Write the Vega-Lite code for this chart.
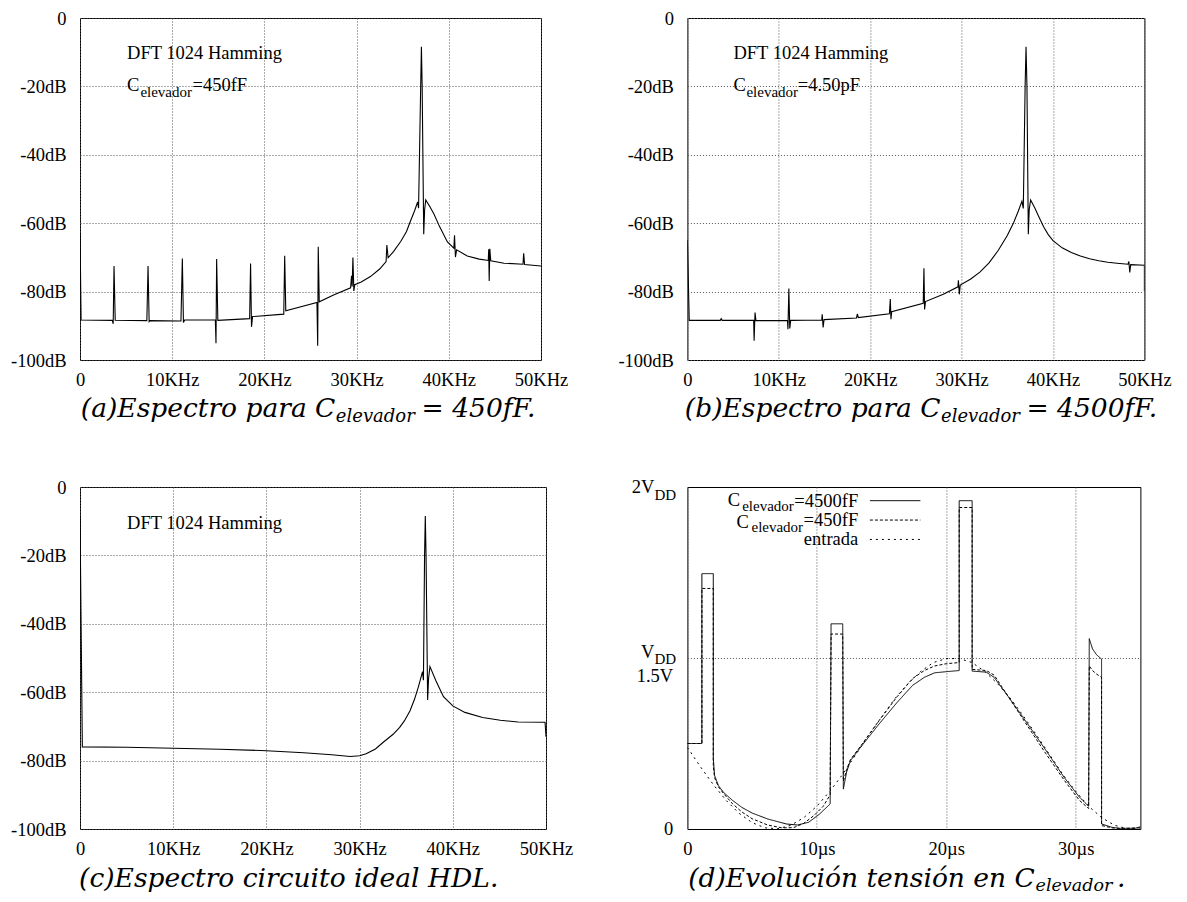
{
  "$schema": "https://vega.github.io/schema/vega-lite/v6.json",
  "padding": {"left": 10, "top": 8, "right": 5, "bottom": 5},
  "background": "white",
  "config": {
    "view": {"stroke": "black", "strokeWidth": 1},
    "axis": {"labelFont": "Liberation Serif", "labelFontSize": 18.5, "labelColor": "black", "ticks": false, "domain": false, "grid": true, "gridColor": "#555", "gridDash": [1, 2], "labelFlush": false, "labelOverlap": false},
    "axisX": {"labelPadding": 10},
    "axisY": {"labelPadding": 14},
    "text": {"font": "Liberation Serif", "fontSize": 18.5, "color": "black", "baseline": "middle"}
  },
  "datasets": {
    "a": [
      {"x":0,"y":-63},{"x":0.12,"y":-88.3},{"x":3.5,"y":-88.4},{"x":3.6,"y":-89.4},{"x":3.69,"y":-72.5},{"x":3.82,"y":-88.4},{"x":7.25,"y":-88.5},{"x":7.38,"y":-72.5},{"x":7.5,"y":-88.8},{"x":7.6,"y":-88.5},{"x":10.95,"y":-88.6},{"x":11.1,"y":-70.3},{"x":11.22,"y":-89.0},{"x":11.35,"y":-88.3},{"x":14.68,"y":-88.3},{"x":14.75,"y":-95.1},{"x":14.82,"y":-70.5},{"x":14.95,"y":-88.4},{"x":18.4,"y":-87.9},{"x":18.5,"y":-71.8},{"x":18.6,"y":-90.3},{"x":18.72,"y":-87.3},{"x":22.1,"y":-86.6},{"x":22.2,"y":-69.5},{"x":22.32,"y":-85.6},{"x":25.7,"y":-83.2},{"x":25.78,"y":-95.8},{"x":25.84,"y":-66.9},{"x":25.95,"y":-83.0},{"x":27.5,"y":-81.0},{"x":29.35,"y":-78.9},{"x":29.45,"y":-75.4},{"x":29.52,"y":-78.5},{"x":29.6,"y":-70.0},{"x":29.7,"y":-79.8},{"x":29.8,"y":-78.0},{"x":30.5,"y":-77.2},{"x":31.5,"y":-75.6},{"x":32.5,"y":-73.4},{"x":33.2,"y":-71.2},{"x":33.28,"y":-66.4},{"x":33.42,"y":-70.1},{"x":34.0,"y":-68.3},{"x":34.8,"y":-65.3},{"x":35.4,"y":-62.5},{"x":35.9,"y":-59.0},{"x":36.3,"y":-56.3},{"x":36.62,"y":-53.8},{"x":36.72,"y":-55.6},{"x":36.95,"y":-20},{"x":37.03,"y":-8.4},{"x":37.11,"y":-20},{"x":37.28,"y":-63.2},{"x":37.38,"y":-56},{"x":37.5,"y":-53.2},{"x":38.0,"y":-55.4},{"x":38.4,"y":-57.4},{"x":39.0,"y":-61.0},{"x":39.85,"y":-65.5},{"x":40.55,"y":-67.3},{"x":40.62,"y":-63.5},{"x":40.72,"y":-69.9},{"x":40.85,"y":-67.8},{"x":42.0,"y":-69.6},{"x":43.3,"y":-70.5},{"x":44.28,"y":-70.9},{"x":44.33,"y":-67.6},{"x":44.38,"y":-76.9},{"x":44.45,"y":-67.5},{"x":44.55,"y":-71.0},{"x":46.0,"y":-71.7},{"x":48.05,"y":-72.0},{"x":48.12,"y":-68.8},{"x":48.22,"y":-72.1},{"x":50,"y":-72.5}
    ],
    "b": [
      {"x":0,"y":-65},{"x":0.2,"y":-88.4},{"x":3.6,"y":-88.4},{"x":3.7,"y":-87.9},{"x":3.8,"y":-88.4},{"x":7.25,"y":-88.4},{"x":7.3,"y":-94.4},{"x":7.4,"y":-86.1},{"x":7.5,"y":-88.5},{"x":10.95,"y":-88.5},{"x":11.0,"y":-91},{"x":11.1,"y":-79.1},{"x":11.2,"y":-90.8},{"x":11.3,"y":-88.4},{"x":14.7,"y":-88.3},{"x":14.75,"y":-86.6},{"x":14.85,"y":-90.5},{"x":14.95,"y":-88.2},{"x":18.5,"y":-87.7},{"x":18.6,"y":-86.5},{"x":18.7,"y":-87.6},{"x":22.1,"y":-86.5},{"x":22.2,"y":-82.2},{"x":22.27,"y":-88.1},{"x":22.35,"y":-85.9},{"x":25.8,"y":-83.4},{"x":25.88,"y":-73.2},{"x":25.95,"y":-85.2},{"x":26.05,"y":-82.9},{"x":28,"y":-80.8},{"x":29.6,"y":-78.6},{"x":29.65,"y":-76.7},{"x":29.75,"y":-80.8},{"x":29.85,"y":-78.1},{"x":31,"y":-76.3},{"x":32,"y":-74.3},{"x":33,"y":-71.6},{"x":34,"y":-68},{"x":35,"y":-63.6},{"x":35.7,"y":-59.8},{"x":36.2,"y":-56.5},{"x":36.6,"y":-53.6},{"x":36.75,"y":-55.7},{"x":36.95,"y":-20},{"x":37.05,"y":-8.4},{"x":37.15,"y":-20},{"x":37.3,"y":-63.2},{"x":37.4,"y":-56},{"x":37.55,"y":-53.2},{"x":38,"y":-55.5},{"x":38.5,"y":-58.4},{"x":39,"y":-61.2},{"x":39.5,"y":-63.4},{"x":40,"y":-65.1},{"x":41,"y":-67.2},{"x":42,"y":-68.6},{"x":43,"y":-69.6},{"x":44,"y":-70.4},{"x":45,"y":-71},{"x":46,"y":-71.4},{"x":47,"y":-71.7},{"x":48.2,"y":-72},{"x":48.3,"y":-71.2},{"x":48.4,"y":-74.4},{"x":48.5,"y":-72.1},{"x":50,"y":-72.3},{"x":50,"y":-79.8}
    ],
    "c": [
      {"x":0,"y":-8.5},{"x":0.25,"y":-76},{"x":5,"y":-76.1},{"x":10,"y":-76.4},{"x":15,"y":-76.7},{"x":20,"y":-77.1},{"x":24,"y":-77.7},{"x":27,"y":-78.3},{"x":29,"y":-78.8},{"x":30,"y":-78.6},{"x":30.7,"y":-78},{"x":31.7,"y":-76.6},{"x":32.6,"y":-74.5},{"x":33.6,"y":-72.3},{"x":34.3,"y":-70.3},{"x":34.8,"y":-68.4},{"x":35.4,"y":-65.5},{"x":35.9,"y":-62},{"x":36.3,"y":-58.5},{"x":36.6,"y":-55.5},{"x":36.75,"y":-54},{"x":36.85,"y":-56.5},{"x":36.97,"y":-20},{"x":37.05,"y":-8.5},{"x":37.13,"y":-20},{"x":37.3,"y":-62.3},{"x":37.4,"y":-56},{"x":37.55,"y":-52.5},{"x":38.2,"y":-56.7},{"x":39,"y":-61.3},{"x":40,"y":-64},{"x":41.3,"y":-65.9},{"x":43.2,"y":-67.4},{"x":45.1,"y":-68.2},{"x":47,"y":-68.7},{"x":49.9,"y":-68.8},{"x":50,"y":-73}
    ],
    "d": [
      {"x":0,"y":0.75,"s":"4500"},{"x":1.12,"y":0.75,"s":"4500"},{"x":1.12,"y":2.24,"s":"4500"},{"x":2.0,"y":2.24,"s":"4500"},{"x":2.0,"y":0.62,"s":"4500"},{"x":2.1,"y":0.47,"s":"4500"},{"x":2.4,"y":0.38,"s":"4500"},{"x":2.8,"y":0.32,"s":"4500"},{"x":3.5,"y":0.25,"s":"4500"},{"x":4.2,"y":0.19,"s":"4500"},{"x":5.0,"y":0.14,"s":"4500"},{"x":6.2,"y":0.088,"s":"4500"},{"x":7.65,"y":0.044,"s":"4500"},{"x":8.5,"y":0.035,"s":"4500"},{"x":9.37,"y":0.059,"s":"4500"},{"x":10.2,"y":0.13,"s":"4500"},{"x":11.03,"y":0.22,"s":"4500"},{"x":11.1,"y":1.8,"s":"4500"},{"x":12.0,"y":1.8,"s":"4500"},{"x":12.05,"y":0.35,"s":"4500"},{"x":12.3,"y":0.5,"s":"4500"},{"x":12.6,"y":0.6,"s":"4500"},{"x":13.4,"y":0.72,"s":"4500"},{"x":14.8,"y":0.92,"s":"4500"},{"x":16.2,"y":1.11,"s":"4500"},{"x":17.4,"y":1.26,"s":"4500"},{"x":18.3,"y":1.33,"s":"4500"},{"x":19.1,"y":1.37,"s":"4500"},{"x":20,"y":1.38,"s":"4500"},{"x":21.0,"y":1.39,"s":"4500"},{"x":21.0,"y":2.88,"s":"4500"},{"x":22.0,"y":2.88,"s":"4500"},{"x":22.0,"y":1.385,"s":"4500"},{"x":23.1,"y":1.376,"s":"4500"},{"x":23.7,"y":1.33,"s":"4500"},{"x":24.8,"y":1.16,"s":"4500"},{"x":26.3,"y":0.92,"s":"4500"},{"x":27.7,"y":0.69,"s":"4500"},{"x":29.1,"y":0.454,"s":"4500"},{"x":30.3,"y":0.278,"s":"4500"},{"x":31.0,"y":0.2,"s":"4500"},{"x":31.05,"y":1.67,"s":"4500"},{"x":31.3,"y":1.58,"s":"4500"},{"x":31.6,"y":1.53,"s":"4500"},{"x":32.0,"y":1.49,"s":"4500"},{"x":32.0,"y":0.044,"s":"4500"},{"x":32.8,"y":0.015,"s":"4500"},{"x":33.4,"y":0.006,"s":"4500"},{"x":34.6,"y":0.006,"s":"4500"},{"x":35,"y":0.02,"s":"4500"},
      {"x":0,"y":0.75,"s":"450"},{"x":1.12,"y":0.75,"s":"450"},{"x":1.12,"y":2.11,"s":"450"},{"x":2.0,"y":2.11,"s":"450"},{"x":2.0,"y":0.55,"s":"450"},{"x":2.1,"y":0.45,"s":"450"},{"x":2.4,"y":0.37,"s":"450"},{"x":2.8,"y":0.31,"s":"450"},{"x":3.5,"y":0.22,"s":"450"},{"x":4.2,"y":0.15,"s":"450"},{"x":5.0,"y":0.09,"s":"450"},{"x":6.2,"y":0.035,"s":"450"},{"x":7.3,"y":0.01,"s":"450"},{"x":8.2,"y":0.012,"s":"450"},{"x":9.0,"y":0.05,"s":"450"},{"x":9.8,"y":0.12,"s":"450"},{"x":10.5,"y":0.2,"s":"450"},{"x":11.03,"y":0.3,"s":"450"},{"x":11.1,"y":1.71,"s":"450"},{"x":12.0,"y":1.71,"s":"450"},{"x":12.05,"y":0.42,"s":"450"},{"x":12.3,"y":0.52,"s":"450"},{"x":12.6,"y":0.61,"s":"450"},{"x":13.4,"y":0.73,"s":"450"},{"x":14.8,"y":0.95,"s":"450"},{"x":16.2,"y":1.16,"s":"450"},{"x":17.4,"y":1.32,"s":"450"},{"x":18.3,"y":1.39,"s":"450"},{"x":19.1,"y":1.43,"s":"450"},{"x":20,"y":1.45,"s":"450"},{"x":21.0,"y":1.46,"s":"450"},{"x":21.0,"y":2.82,"s":"450"},{"x":22.0,"y":2.82,"s":"450"},{"x":22.0,"y":1.4,"s":"450"},{"x":23.1,"y":1.39,"s":"450"},{"x":23.7,"y":1.35,"s":"450"},{"x":24.8,"y":1.16,"s":"450"},{"x":26.3,"y":0.9,"s":"450"},{"x":27.7,"y":0.66,"s":"450"},{"x":29.1,"y":0.43,"s":"450"},{"x":30.3,"y":0.25,"s":"450"},{"x":31.0,"y":0.18,"s":"450"},{"x":31.05,"y":1.43,"s":"450"},{"x":31.3,"y":1.39,"s":"450"},{"x":31.6,"y":1.36,"s":"450"},{"x":32.0,"y":1.33,"s":"450"},{"x":32.0,"y":0.03,"s":"450"},{"x":32.8,"y":0.01,"s":"450"},{"x":33.4,"y":0.005,"s":"450"},{"x":35,"y":0.01,"s":"450"},
      {"x":0,"y":0.716,"s":"entrada"},{"x":1,"y":0.547,"s":"entrada"},{"x":2,"y":0.39,"s":"entrada"},{"x":3,"y":0.25,"s":"entrada"},{"x":4,"y":0.137,"s":"entrada"},{"x":5,"y":0.056,"s":"entrada"},{"x":6,"y":0.01,"s":"entrada"},{"x":7,"y":0.002,"s":"entrada"},{"x":8,"y":0.033,"s":"entrada"},{"x":9,"y":0.1,"s":"entrada"},{"x":10,"y":0.2,"s":"entrada"},{"x":11,"y":0.33,"s":"entrada"},{"x":12,"y":0.48,"s":"entrada"},{"x":13,"y":0.65,"s":"entrada"},{"x":14,"y":0.82,"s":"entrada"},{"x":15,"y":0.98,"s":"entrada"},{"x":16,"y":1.14,"s":"entrada"},{"x":17,"y":1.27,"s":"entrada"},{"x":18,"y":1.38,"s":"entrada"},{"x":19,"y":1.46,"s":"entrada"},{"x":20,"y":1.495,"s":"entrada"},{"x":21,"y":1.495,"s":"entrada"},{"x":22,"y":1.46,"s":"entrada"},{"x":23,"y":1.38,"s":"entrada"},{"x":24,"y":1.27,"s":"entrada"},{"x":25,"y":1.14,"s":"entrada"},{"x":26,"y":0.985,"s":"entrada"},{"x":27,"y":0.82,"s":"entrada"},{"x":28,"y":0.65,"s":"entrada"},{"x":29,"y":0.48,"s":"entrada"},{"x":30,"y":0.33,"s":"entrada"},{"x":31,"y":0.2,"s":"entrada"},{"x":32,"y":0.1,"s":"entrada"},{"x":33,"y":0.033,"s":"entrada"},{"x":34,"y":0.002,"s":"entrada"},{"x":35,"y":0.01,"s":"entrada"}
    ]
  },
  "concat": [
    {
      "width": 461, "height": 342,
      "layer": [
        {"data": {"name": "a"}, "mark": {"type": "line", "color": "black", "strokeWidth": 1.1, "clip": true},
         "encoding": {
           "x": {"field": "x", "type": "quantitative", "title": null, "scale": {"domain": [0, 50], "nice": false, "zero": false}, "axis": {"values": [0, 10, 20, 30, 40, 50], "labelExpr": "datum.value == 0 ? '0' : datum.value + 'KHz'"}},
           "y": {"field": "y", "type": "quantitative", "title": null, "scale": {"domain": [-100, 0], "nice": false}, "axis": {"values": [-100, -80, -60, -40, -20, 0], "labelExpr": "datum.value == 0 ? '0' : datum.value + 'dB'"}},
           "order": {"value": null}}},
        {"data": {"values": [{"x": 5.1, "y": -10.3, "t": "DFT 1024 Hamming"}, {"x": 5.1, "y": -19.6, "t": "C"}, {"x": 12.2, "y": -19.6, "t": "=450fF"}]},
         "mark": {"type": "text", "align": "left"},
         "encoding": {"x": {"field": "x", "type": "quantitative", "title": null}, "y": {"field": "y", "type": "quantitative", "title": null}, "text": {"field": "t"}}},
        {"data": {"values": [{"x": 6.55, "y": -21.6, "t": "elevador"}]},
         "mark": {"type": "text", "align": "left", "fontSize": 15},
         "encoding": {"x": {"field": "x", "type": "quantitative", "title": null}, "y": {"field": "y", "type": "quantitative", "title": null}, "text": {"field": "t"}}},
        {"data": {"values": [{"x": 27.7, "y": -114.3, "t": "(a)Espectro para C"}]},
         "mark": {"type": "text", "align": "right", "font": "DejaVu Serif", "fontStyle": "italic", "fontSize": 26.5},
         "encoding": {"x": {"field": "x", "type": "quantitative", "title": null}, "y": {"field": "y", "type": "quantitative", "title": null}, "text": {"field": "t"}}},
        {"data": {"values": [{"x": 27.75, "y": -116.6, "t": "elevador"}]},
         "mark": {"type": "text", "align": "left", "font": "DejaVu Serif", "fontStyle": "italic", "fontSize": 18},
         "encoding": {"x": {"field": "x", "type": "quantitative", "title": null}, "y": {"field": "y", "type": "quantitative", "title": null}, "text": {"field": "t"}}},
        {"data": {"values": [{"x": 37.05, "y": -114.3, "t": "= 450fF."}]},
         "mark": {"type": "text", "align": "left", "font": "DejaVu Serif", "fontStyle": "italic", "fontSize": 26.5},
         "encoding": {"x": {"field": "x", "type": "quantitative", "title": null}, "y": {"field": "y", "type": "quantitative", "title": null}, "text": {"field": "t"}}}
      ]
    },
    {
      "width": 457, "height": 342,
      "layer": [
        {"data": {"name": "b"}, "mark": {"type": "line", "color": "black", "strokeWidth": 1.1, "clip": true},
         "encoding": {
           "x": {"field": "x", "type": "quantitative", "title": null, "scale": {"domain": [0, 50], "nice": false, "zero": false}, "axis": {"values": [0, 10, 20, 30, 40, 50], "labelExpr": "datum.value == 0 ? '0' : datum.value + 'KHz'"}},
           "y": {"field": "y", "type": "quantitative", "title": null, "scale": {"domain": [-100, 0], "nice": false}, "axis": {"values": [-100, -80, -60, -40, -20, 0], "labelExpr": "datum.value == 0 ? '0' : datum.value + 'dB'"}},
           "order": {"value": null}}},
        {"data": {"values": [{"x": 5.04, "y": -10.3, "t": "DFT 1024 Hamming"}, {"x": 5.04, "y": -19.6, "t": "C"}, {"x": 12.07, "y": -19.6, "t": "=4.50pF"}]},
         "mark": {"type": "text", "align": "left"},
         "encoding": {"x": {"field": "x", "type": "quantitative", "title": null}, "y": {"field": "y", "type": "quantitative", "title": null}, "text": {"field": "t"}}},
        {"data": {"values": [{"x": 6.46, "y": -21.6, "t": "elevador"}]},
         "mark": {"type": "text", "align": "left", "fontSize": 15},
         "encoding": {"x": {"field": "x", "type": "quantitative", "title": null}, "y": {"field": "y", "type": "quantitative", "title": null}, "text": {"field": "t"}}},
        {"data": {"values": [{"x": 27.7, "y": -114.3, "t": "(b)Espectro para C"}]},
         "mark": {"type": "text", "align": "right", "font": "DejaVu Serif", "fontStyle": "italic", "fontSize": 26.5},
         "encoding": {"x": {"field": "x", "type": "quantitative", "title": null}, "y": {"field": "y", "type": "quantitative", "title": null}, "text": {"field": "t"}}},
        {"data": {"values": [{"x": 27.75, "y": -116.6, "t": "elevador"}]},
         "mark": {"type": "text", "align": "left", "font": "DejaVu Serif", "fontStyle": "italic", "fontSize": 18},
         "encoding": {"x": {"field": "x", "type": "quantitative", "title": null}, "y": {"field": "y", "type": "quantitative", "title": null}, "text": {"field": "t"}}},
        {"data": {"values": [{"x": 37.1, "y": -114.3, "t": "= 4500fF."}]},
         "mark": {"type": "text", "align": "left", "font": "DejaVu Serif", "fontStyle": "italic", "fontSize": 26.5},
         "encoding": {"x": {"field": "x", "type": "quantitative", "title": null}, "y": {"field": "y", "type": "quantitative", "title": null}, "text": {"field": "t"}}}
      ]
    },
    {
      "width": 466, "height": 342,
      "layer": [
        {"data": {"name": "c"}, "mark": {"type": "line", "color": "black", "strokeWidth": 1.1, "clip": true},
         "encoding": {
           "x": {"field": "x", "type": "quantitative", "title": null, "scale": {"domain": [0, 50], "nice": false, "zero": false}, "axis": {"values": [0, 10, 20, 30, 40, 50], "labelExpr": "datum.value == 0 ? '0' : datum.value + 'KHz'"}},
           "y": {"field": "y", "type": "quantitative", "title": null, "scale": {"domain": [-100, 0], "nice": false}, "axis": {"values": [-100, -80, -60, -40, -20, 0], "labelExpr": "datum.value == 0 ? '0' : datum.value + 'dB'"}},
           "order": {"value": null}}},
        {"data": {"values": [{"x": 5.05, "y": -10.4, "t": "DFT 1024 Hamming"}]},
         "mark": {"type": "text", "align": "left"},
         "encoding": {"x": {"field": "x", "type": "quantitative", "title": null}, "y": {"field": "y", "type": "quantitative", "title": null}, "text": {"field": "t"}}},
        {"data": {"values": [{"x": -0.1, "y": -114.5, "t": "(c)Espectro circuito ideal HDL."}]},
         "mark": {"type": "text", "align": "left", "font": "DejaVu Serif", "fontStyle": "italic", "fontSize": 26.5},
         "encoding": {"x": {"field": "x", "type": "quantitative", "title": null}, "y": {"field": "y", "type": "quantitative", "title": null}, "text": {"field": "t"}}}
      ]
    },
    {
      "width": 453, "height": 342,
      "layer": [
        {"data": {"name": "d"}, "mark": {"type": "line", "color": "black", "strokeWidth": 1, "clip": true},
         "encoding": {
           "x": {"field": "x", "type": "quantitative", "title": null, "scale": {"domain": [0, 35], "nice": false, "zero": false}, "axis": {"values": [0, 10, 20, 30], "labelExpr": "datum.value == 0 ? '0' : datum.value + 'µs'"}},
           "y": {"field": "y", "type": "quantitative", "title": null, "scale": {"domain": [0, 3], "nice": false}, "axis": {"values": [1.5], "labels": false}},
           "strokeDash": {"field": "s", "type": "nominal", "legend": null, "scale": {"domain": ["4500", "450", "entrada"], "range": [[1, 0], [3, 2], [2, 4]]}},
           "order": {"value": null}}},
        {"data": {"values": [{"x": 14.1, "x2": 18.0, "y": 2.88, "s": "4500"}, {"x": 14.1, "x2": 18.0, "y": 2.71, "s": "450"}, {"x": 14.1, "x2": 18.0, "y": 2.54, "s": "entrada"}]},
         "mark": {"type": "rule", "color": "black", "strokeWidth": 1},
         "encoding": {"x": {"field": "x", "type": "quantitative", "title": null}, "x2": {"field": "x2"}, "y": {"field": "y", "type": "quantitative", "title": null}, "strokeDash": {"field": "s", "type": "nominal", "legend": null}}},
        {"data": {"values": [{"x": 13.2, "y": 2.88, "t": "=4500fF"}, {"x": 13.2, "y": 2.71, "t": "=450fF"}, {"x": 13.2, "y": 2.54, "t": "entrada"}, {"x": 4.07, "y": 2.885, "t": "C"}, {"x": 4.75, "y": 2.695, "t": "C"}, {"x": -2.55, "y": 3.0, "t": "2V"}, {"x": -2.55, "y": 1.55, "t": "V"}, {"x": -1.1, "y": 1.34, "t": "1.5V"}, {"x": -1.1, "y": 0, "t": "0"}]},
         "mark": {"type": "text", "align": "right"},
         "encoding": {"x": {"field": "x", "type": "quantitative", "title": null}, "y": {"field": "y", "type": "quantitative", "title": null}, "text": {"field": "t"}}},
        {"data": {"values": [{"x": 8.22, "y": 2.835, "t": "elevador"}, {"x": 8.94, "y": 2.65, "t": "elevador"}]},
         "mark": {"type": "text", "align": "right", "fontSize": 15},
         "encoding": {"x": {"field": "x", "type": "quantitative", "title": null}, "y": {"field": "y", "type": "quantitative", "title": null}, "text": {"field": "t"}}},
        {"data": {"values": [{"x": -2.55, "y": 2.93, "t": "DD"}, {"x": -2.55, "y": 1.49, "t": "DD"}]},
         "mark": {"type": "text", "align": "left", "fontSize": 15},
         "encoding": {"x": {"field": "x", "type": "quantitative", "title": null}, "y": {"field": "y", "type": "quantitative", "title": null}, "text": {"field": "t"}}},
        {"data": {"values": [{"x": 26.84, "y": -0.44, "t": "(d)Evolución tensión en C"}]},
         "mark": {"type": "text", "align": "right", "font": "DejaVu Serif", "fontStyle": "italic", "fontSize": 26.5},
         "encoding": {"x": {"field": "x", "type": "quantitative", "title": null}, "y": {"field": "y", "type": "quantitative", "title": null}, "text": {"field": "t"}}},
        {"data": {"values": [{"x": 26.9, "y": -0.5, "t": "elevador"}]},
         "mark": {"type": "text", "align": "left", "font": "DejaVu Serif", "fontStyle": "italic", "fontSize": 17.5},
         "encoding": {"x": {"field": "x", "type": "quantitative", "title": null}, "y": {"field": "y", "type": "quantitative", "title": null}, "text": {"field": "t"}}},
        {"data": {"values": [{"x": 33.2, "y": -0.44, "t": "."}]},
         "mark": {"type": "text", "align": "left", "font": "DejaVu Serif", "fontStyle": "italic", "fontSize": 26.5},
         "encoding": {"x": {"field": "x", "type": "quantitative", "title": null}, "y": {"field": "y", "type": "quantitative", "title": null}, "text": {"field": "t"}}}
      ]
    }
  ],
  "columns": 2,
  "spacing": {"row": 127, "column": 141.4},
  "bounds": "flush"
}
